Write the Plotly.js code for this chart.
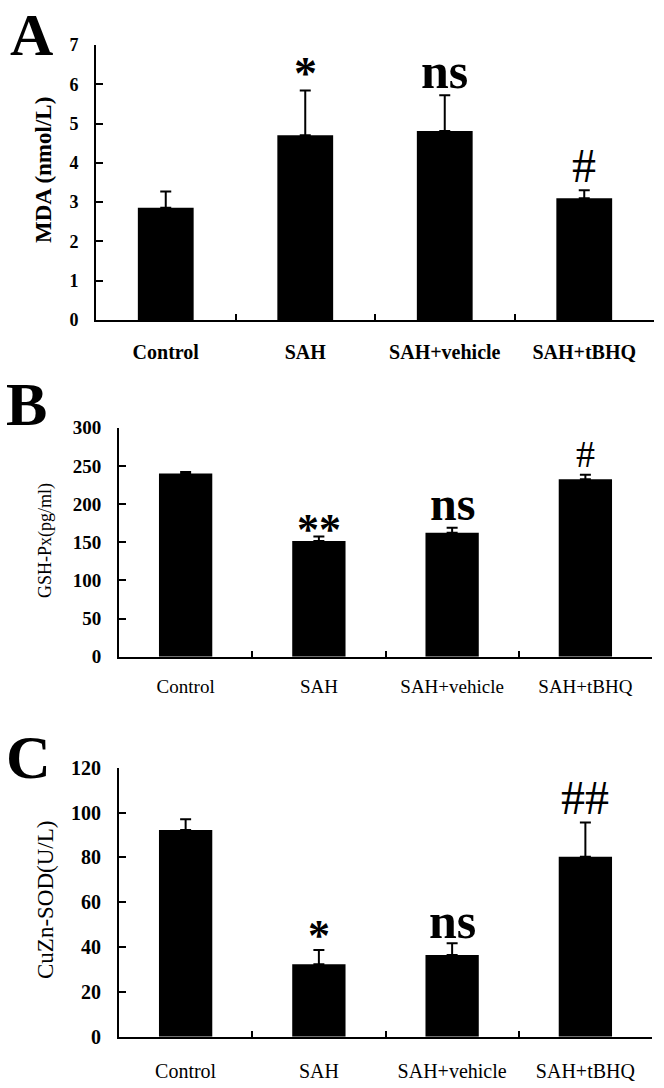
<!DOCTYPE html>
<html>
<head>
<meta charset="utf-8">
<script src="https://cdn.plot.ly/plotly-3.0.1.min.js"></script>
<style>html,body{margin:0;padding:0;background:#fff;}#chart{width:664px;height:1088px;}</style>
</head>
<body>
<div id="chart"></div>
<script>
// ---- data ----
var categories = ["Control", "SAH", "SAH+vehicle", "SAH+tBHQ"];

var mdaValues = [2.86, 4.70, 4.81, 3.10];
var mdaErrors = [0.41, 1.14, 0.91, 0.20];
var mdaMarks  = ["", "*", "ns", "#"];
var mdaTicks  = [0, 1, 2, 3, 4, 5, 6, 7];

var gshValues = [240, 151.6, 162.5, 232.5];
var gshErrors = [2, 6, 6.5, 6];
var gshMarks  = ["", "**", "ns", "#"];
var gshTicks  = [0, 50, 100, 150, 200, 250, 300];

var sodValues = [92.2, 32.3, 36.4, 80.3];
var sodErrors = [4.8, 6.4, 5.3, 15.3];
var sodMarks  = ["", "*", "ns", "##"];
var sodTicks  = [0, 20, 40, 60, 80, 100, 120];

var panelLetters = ["A", "B", "C"];

// ---- layout helpers ----
var W = 664, H = 1088;
function px(x) { return x / W; }
function py(y) { return 1 - y / H; }
var serif = "Liberation Serif, Times New Roman, serif";

function barTrace(vals, errs, xa, ya) {
  return {
    type: "bar", x: categories, y: vals, xaxis: xa, yaxis: ya,
    width: 0.4,
    marker: { color: "#000", line: { width: 0 } },
    error_y: { type: "data", symmetric: false, array: errs,
               arrayminus: errs.map(function () { return 0; }),
               color: "#000", thickness: 2, width: 5.5 },
    hoverinfo: "skip", showlegend: false
  };
}

var traces = [
  barTrace(mdaValues, mdaErrors, "x", "y"),
  barTrace(gshValues, gshErrors, "x2", "y2"),
  barTrace(sodValues, sodErrors, "x3", "y3")
];

function xAxis(dom, anchor, fontSize, bold, standoff) {
  return {
    domain: dom, anchor: anchor, type: "category",
    showline: true, linecolor: "#000", linewidth: 2,
    ticks: "inside", tickson: "boundaries", ticklen: 6, tickwidth: 2, tickcolor: "#000",
    showgrid: false, zeroline: false, fixedrange: true,
    ticklabelstandoff: standoff,
    tickfont: { family: serif, size: fontSize, color: "#000", weight: bold ? "bold" : "normal" }
  };
}
function yAxis(dom, anchor, range, ticks, tickSize) {
  return {
    domain: dom, anchor: anchor, range: range,
    tickmode: "array", tickvals: ticks,
    showline: true, linecolor: "#000", linewidth: 2,
    ticks: "inside", ticklen: 7, tickwidth: 2, tickcolor: "#000",
    showgrid: false, zeroline: false, fixedrange: true,
    ticklabelstandoff: 12,
    tickfont: { family: serif, size: tickSize, color: "#000", weight: "bold" }
  };
}

var domXA = [px(96), px(654)];
var domXB = [px(119), px(652)];

var layout = {
  width: W, height: H,
  margin: { l: 0, r: 0, t: 0, b: 0 },
  paper_bgcolor: "#fff", plot_bgcolor: "rgba(0,0,0,0)",
  bargap: 0.6,
  xaxis:  xAxis(domXA, "y", 20, true, 13),
  yaxis:  yAxis([py(320), py(45)], "x", [0, 7], mdaTicks, 18),
  xaxis2: xAxis(domXB, "y2", 19, false, 11),
  yaxis2: yAxis([py(656.7), py(427.7)], "x2", [0, 300], gshTicks, 19),
  xaxis3: xAxis(domXB, "y3", 20, false, 15),
  yaxis3: yAxis([py(1036.7), py(767.7)], "x3", [0, 120], sodTicks, 20),
  annotations: []
};

// y-axis titles (rotated), positioned in paper space beside each axis
var yTitles = [
  { text: "MDA (nmol/L)", x: 43, y: 170, size: 23, bold: true },
  { text: "GSH-Px(pg/ml)", x: 45, y: 541, size: 18, bold: false },
  { text: "CuZn-SOD(U/L)", x: 45, y: 900, size: 23, bold: false }
];
yTitles.forEach(function (t) {
  layout.annotations.push({
    text: t.text, xref: "paper", yref: "paper", x: px(t.x), y: py(t.y),
    xanchor: "center", yanchor: "middle", textangle: -90, showarrow: false,
    font: { family: serif, size: t.size, color: "#000", weight: t.bold ? "bold" : "normal" }
  });
});

// panel letters
var letterPos = [[8, 0], [4, 404], [4, 757]];
panelLetters.forEach(function (t, i) {
  layout.annotations.push({
    text: t, xref: "paper", yref: "paper",
    x: px(letterPos[i][0]), y: i === 0 ? 1 : py(letterPos[i][1]),
    xanchor: "left", yanchor: i === 0 ? "top" : "middle", showarrow: false,
    font: { family: serif, size: i === 0 ? 60 : 62, color: "#000", weight: "bold" }
  });
});

// significance marks placed above the error bars
function addMarks(marks, vals, errs, xa, ya, gaps, sizes) {
  marks.forEach(function (m, i) {
    if (!m) return;
    var isHash = m.indexOf("#") >= 0;
    layout.annotations.push({
      text: m, xref: xa, yref: ya, x: categories[i], y: vals[i] + errs[i],
      yshift: gaps[i], xanchor: "center", yanchor: "bottom", showarrow: false,
      font: { family: serif, size: sizes[i], color: "#000",
              weight: isHash ? "normal" : "bold" }
    });
  });
}
addMarks(mdaMarks, mdaValues, mdaErrors, "x", "y", [0, -10, -6, -4], [0, 46, 50, 48]);
addMarks(gshMarks, gshValues, gshErrors, "x2", "y2", [0, -20, -4, -2], [0, 44, 48, 38]);
addMarks(sodMarks, sodValues, sodErrors, "x3", "y3", [0, -12, -8, -4], [0, 44, 50, 48]);

Plotly.newPlot("chart", traces, layout, { staticPlot: true, displayModeBar: false });
</script>
</body>
</html>
